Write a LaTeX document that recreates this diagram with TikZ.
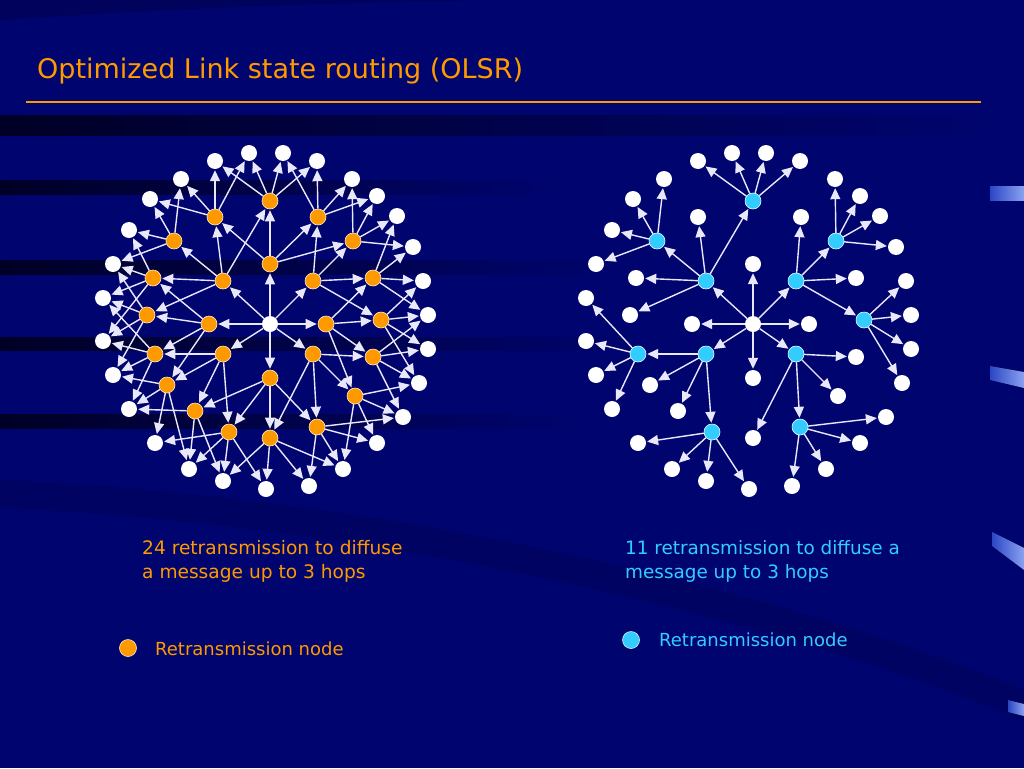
\documentclass[tikz,border=0pt]{standalone}
\usepackage{fontspec}
\setmainfont{DejaVu Sans}
\usetikzlibrary{arrows.meta}
\definecolor{bg}{HTML}{00046E}
\definecolor{bgdark}{HTML}{000026}
\definecolor{org}{HTML}{FF9900}
\definecolor{sky}{HTML}{33CCFF}
\definecolor{edgec}{HTML}{E8E8FA}
\definecolor{tab}{HTML}{3D63E8}
\tikzset{
  wdot/.style={circle,fill=white,minimum size=16pt,inner sep=0pt},
  odot/.style={circle,fill=org,draw=white!80!org,line width=0.6pt,minimum size=16pt,inner sep=0pt},
  bdot/.style={circle,fill=sky,draw=white!80!sky,line width=0.6pt,minimum size=16pt,inner sep=0pt},
  edge/.style={draw=edgec,line width=1.4pt,-{Triangle[length=11pt,width=10pt]},shorten >=1pt},
  band/.style={left color=bgdark,right color=bg,draw=none},
  tabshape/.style={left color=tab!70!bg,right color=tab!60!white,draw=none}
}
\def\Wlist{c/270/324,w1/215/161,w2/249/153,w3/283/153,w4/317/161,w5/181/179,w6/352/179,w7/150/199,w8/377/196,w9/129/230,w10/397/216,w11/113/264,w12/413/247,w13/103/298,w14/423/281,w15/103/341,w16/428/315,w17/113/375,w18/428/349,w19/129/409,w20/419/383,w21/155/443,w22/403/417,w23/189/469,w24/377/443,w25/223/481,w26/343/469,w27/266/489,w28/309/486}
\def\Plist{p1/215/217,p2/270/201,p3/318/217,p4/174/241,p5/353/241,p6/153/278,p7/223/281,p8/270/264,p9/313/281,p10/373/278,p11/147/315,p12/209/324,p13/326/324,p14/381/320,p15/155/354,p16/223/354,p17/313/354,p18/373/357,p19/167/385,p20/270/378,p21/355/396,p22/195/411,p23/229/432,p24/270/438,p25/317/427}
\begin{document}
\begin{tikzpicture}[x=1pt,y=-1pt]
\useasboundingbox (0,0) rectangle (1024,768);
% background
\fill[bg] (0,0) rectangle (1024,768);
\fill[bgdark,opacity=0.25] (0,20) .. controls (150,10) and (350,0) .. (560,0) -- (0,0) -- cycle;
\fill[band] (0,115) rectangle (1000,135);
\fill[band] (0,180) rectangle (560,194);
\fill[band] (0,260) rectangle (620,274);
\fill[band] (0,337) rectangle (640,350);
\fill[band] (0,414) rectangle (580,428);
\fill[bgdark,opacity=0.18] (0,480) .. controls (300,492) and (700,560) .. (1024,690) -- (1024,720) .. controls (700,590) and (300,520) .. (0,508) -- cycle;
% right edge tabs
\fill[tabshape] (990,186) rectangle (1024,200);
\fill[tabshape] (990,366) -- (1024,372) -- (1024,388) -- (990,380) -- cycle;
\fill[tabshape] (992,532) -- (1024,548) -- (1024,570) -- (992,546) -- cycle;
\fill[tabshape] (1008,700) -- (1024,704) -- (1024,716) -- (1008,712) -- cycle;
% title
\node[anchor=base west,inner sep=0pt,text=org,font=\fontsize{27}{32}\selectfont] (title) at (37,78) {Optimized Link state routing (OLSR)};
\coordinate (rule1) at (26,102);
\coordinate (rule2) at (981,102);
\draw[org,line width=2pt] (rule1) -- (rule2);
% left graph nodes
\foreach \n/\x/\y in \Wlist {\node[wdot] (L\n) at (\x,\y) {};}
\foreach \n/\x/\y in \Plist {\node[odot] (L\n) at (\x,\y) {};}
% right graph nodes
\foreach \n/\x/\y in \Wlist {\node[wdot] (R\n) at ({\x+483},\y) {};}
\foreach \n/\x/\y in \Plist {\node[wdot] (R\n) at ({\x+483},\y) {};}
\foreach \n in {p2,p4,p5,p7,p9,p14,p15,p16,p17,p23,p25} {\node[bdot] (B\n) at (R\n) {};}
% left edges
\foreach \a/\b in {c/p7,c/p8,c/p9,c/p12,c/p13,c/p16,c/p17,c/p20,
p8/p1,p8/p2,p8/p3,p8/p5,
p7/p1,p7/p2,p7/p4,p7/p6,p7/p11,
p9/p3,p9/p5,p9/p10,p9/p14,
p12/p6,p12/p11,p12/p15,p12/p19,
p13/p10,p13/p14,p13/p18,p13/p21,
p16/p15,p16/p19,p16/p22,p16/p23,
p17/p18,p17/p21,p17/p24,p17/p25,
p20/p22,p20/p23,p20/p24,p20/p25,
p1/w1,p1/w2,p1/w5,p1/w7,
p2/w1,p2/w2,p2/w3,p2/w4,
p3/w3,p3/w4,p3/w6,p3/w8,
p4/w5,p4/w7,p4/w9,p4/w11,
p5/w6,p5/w8,p5/w10,p5/w12,
p6/w9,p6/w11,p6/w13,p6/w15,
p10/w10,p10/w12,p10/w14,p10/w16,
p11/w11,p11/w13,p11/w15,p11/w17,
p14/w14,p14/w16,p14/w18,p14/w20,
p15/w13,p15/w15,p15/w17,p15/w19,
p18/w16,p18/w18,p18/w20,p18/w22,
p19/w17,p19/w19,p19/w21,p19/w23,
p21/w20,p21/w22,p21/w24,p21/w26,
p22/w19,p22/w23,p22/w25,
p23/w21,p23/w23,p23/w25,p23/w27,
p24/w25,p24/w26,p24/w27,p24/w28,
p25/w22,p25/w24,p25/w26,p25/w28}
  {\draw[edge] (L\a) -- (L\b);}
% right edges
\foreach \a/\b in {c/p7,c/p8,c/p9,c/p12,c/p13,c/p16,c/p17,c/p20,
p7/p1,p7/p2,p7/p4,p7/p6,p7/p11,
p2/w1,p2/w2,p2/w3,p2/w4,
p4/w5,p4/w7,p4/w9,p4/w11,
p5/w6,p5/w8,p5/w10,p5/w12,
p9/p3,p9/p5,p9/p10,p9/p14,
p14/w14,p14/w16,p14/w18,p14/w20,
p16/p15,p16/p19,p16/p22,p16/p23,
p15/w13,p15/w15,p15/w17,p15/w19,
p23/w21,p23/w23,p23/w25,p23/w27,
p17/p18,p17/p21,p17/p24,p17/p25,
p25/w22,p25/w24,p25/w26,p25/w28}
  {\draw[edge] (R\a) -- (R\b);}
% captions
\node[anchor=north west,inner sep=0pt,align=left,text=org,font=\fontsize{18.6}{24}\selectfont] (capL) at (142,540) {24 retransmission to diffuse\\a message up to 3 hops};
\node[anchor=north west,inner sep=0pt,align=left,text=sky,font=\fontsize{18.4}{24}\selectfont] (capR) at (625,540) {11 retransmission to diffuse a\\message up to 3 hops};
% legends
\node[odot,minimum size=17pt] (legL) at (128,648) {};
\node[anchor=west,inner sep=0pt,text=org,font=\fontsize{18}{22}\selectfont] (legLt) at (155,649) {Retransmission node};
\node[bdot,minimum size=17pt] (legR) at (631,640) {};
\node[anchor=west,inner sep=0pt,text=sky,font=\fontsize{18}{22}\selectfont] (legRt) at (659,640) {Retransmission node};
\end{tikzpicture}
\end{document}
